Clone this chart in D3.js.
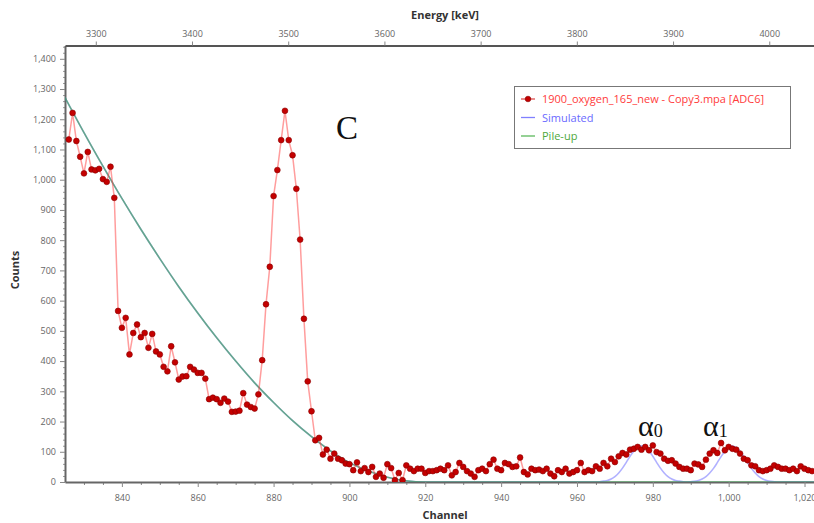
<!DOCTYPE html>
<html>
<head>
<meta charset="utf-8">
<script src="https://cdn.jsdelivr.net/npm/d3@7"></script>
<style>
  html, body { margin: 0; padding: 0; background: #fff; }
  svg { display: block; }
  .tick text { font-family: "Open Sans", "Noto Sans", sans-serif; font-size: 9px; fill: #666; }
  .axis-title { font-family: "Open Sans", "Noto Sans", sans-serif; font-size: 11px; font-weight: bold; fill: #333; }
  .legend text { font-family: "Open Sans", "Noto Sans", sans-serif; font-size: 11px; }
</style>
</head>
<body>
<svg id="chart" width="814" height="523"></svg>
<script>
// Measured spectrum: counts per channel, starting at channel 826
const firstChannel = 826;
const measuredCounts = [
  1133, 1221, 1128, 1076, 1021, 1092, 1034, 1031, 1036, 1002,
  993, 1043, 940, 566, 510, 543, 422, 493, 521, 479,
  493, 444, 490, 432, 422, 381, 366, 449, 396, 339,
  349, 350, 381, 372, 361, 361, 342, 274, 279, 274,
  262, 276, 266, 232, 233, 236, 294, 256, 248, 243,
  290, 403, 588, 712, 946, 1032, 1131, 1228, 1131, 1081,
  970, 802, 540, 333, 234, 138, 146, 91, 107, 77,
  94, 77, 72, 61, 59, 39, 65, 36, 46, 33,
  50, 17, 28, 14, 59, 46, 6, 30, 6, 55,
  44, 36, 44, 44, 30, 36, 36, 39, 44, 39,
  55, 22, 33, 63, 50, 36, 28, 17, 39, 44,
  36, 59, 74, 44, 39, 63, 59, 50, 52, 81,
  33, 25, 44, 39, 41, 36, 44, 28, 19, 39,
  33, 44, 28, 33, 39, 63, 33, 39, 36, 52,
  44, 63, 52, 77, 66, 85, 96, 91, 107, 110,
  116, 107, 116, 105, 121, 99, 94, 77, 70, 72,
  61, 50, 44, 44, 39, 61, 58, 50, 74, 94,
  105, 96, 129, 105, 116, 110, 107, 94, 77, 72,
  55, 52, 39, 36, 39, 44, 55, 50, 44, 44,
  39, 44, 36, 52, 44, 39, 36
];

// Pile-up background curve
const pileupChannels = [825, 830, 835, 840, 845, 850, 855, 860, 865, 870, 875, 880, 885, 890, 895, 900, 905, 910, 915, 920, 1023];
const pileupCounts   = [1272, 1156, 1045, 938, 836, 739, 646, 559, 477, 400, 328, 263, 203, 150, 103, 64, 36, 16, 4, 0, 0];

// Simulated spectrum (pile-up plus the alpha0 / alpha1 peaks)
const simulatedChannels = [
  825, 830, 835, 840, 845, 850, 855, 860, 865, 870, 875, 880, 885, 890, 895, 900, 905, 910, 915, 920,
  930, 940, 950, 960, 965, 966, 967, 968, 969, 970, 971, 972, 973, 974, 975, 976, 977, 978, 979,
  980, 981, 982, 983, 984, 985, 986, 987, 988, 989, 990, 991, 992, 993, 994, 995, 996, 997, 998,
  999, 1000, 1001, 1002, 1003, 1004, 1005, 1006, 1007, 1008, 1009, 1010, 1011, 1012, 1013, 1023
];
const simulatedCounts = [
  1272, 1156, 1045, 938, 836, 739, 646, 559, 477, 400, 328, 263, 203, 150, 103, 64, 36, 16, 4, 0,
  0, 0, 0, 0, 0, 1, 3, 5, 10, 18, 30, 46, 65, 85, 103, 115, 120, 115, 103,
  85, 65, 46, 30, 18, 10, 5, 3, 1, 0, 1, 2, 5, 10, 18, 30, 45, 64, 84,
  102, 114, 119, 114, 102, 84, 64, 45, 30, 18, 10, 5, 2, 1, 0, 0
];

// Axis ticks
const channelTicks = [840, 860, 880, 900, 920, 940, 960, 980, 1000, 1020];
const countTicks = [0, 100, 200, 300, 400, 500, 600, 700, 800, 900, 1000, 1100, 1200, 1300, 1400];
const energyTicks = [3300, 3400, 3500, 3600, 3700, 3800, 3900, 4000];

// Legend entries
const legendLabels = ["1900_oxygen_165_new - Copy3.mpa [ADC6]", "Simulated", "Pile-up"];

const svg = d3.select("#chart");
const plot = { left: 65, right: 814, top: 45.5, bottom: 482 };

const x = d3.scaleLinear().domain([825, 1022.5]).range([plot.left, plot.right]);
const y = d3.scaleLinear().domain([0, 1444]).range([plot.bottom, plot.top]);
const xEnergy = d3.scaleLinear().domain([3268, 4046.5]).range([plot.left, plot.right]);

svg.append("defs").append("clipPath").attr("id", "plotClip")
  .append("rect")
  .attr("x", plot.left).attr("y", plot.top)
  .attr("width", plot.right - plot.left).attr("height", plot.bottom - plot.top);

const fmt = d3.format(",");

// Bottom axis: channel, minor ticks every 5 channels
const minorChannel = d3.range(830, 1023, 5).filter(v => !channelTicks.includes(v));
svg.append("g")
  .attr("transform", `translate(0,${plot.bottom})`)
  .call(d3.axisBottom(x).tickValues(minorChannel).tickSize(3).tickFormat(""))
  .call(g => g.select(".domain").remove())
  .call(g => g.selectAll("line").attr("stroke", "#888"));
svg.append("g")
  .attr("transform", `translate(0,${plot.bottom})`)
  .call(d3.axisBottom(x).tickValues(channelTicks).tickSize(5).tickSizeOuter(0).tickPadding(8).tickFormat(fmt))
  .call(g => g.select(".domain").attr("stroke", "#666").attr("stroke-width", 2))
  .call(g => g.selectAll(".tick line").attr("stroke", "#888"));

// Left axis: counts, minor ticks every 20
const minorCounts = d3.range(20, 1444, 20).filter(v => v % 100 !== 0);
svg.append("g")
  .attr("transform", `translate(${plot.left},0)`)
  .call(d3.axisLeft(y).tickValues(minorCounts).tickSize(2).tickFormat(""))
  .call(g => g.select(".domain").remove())
  .call(g => g.selectAll("line").attr("stroke", "#999"));
svg.append("g")
  .attr("transform", `translate(${plot.left},0)`)
  .call(d3.axisLeft(y).tickValues(countTicks).tickSize(5).tickSizeOuter(0).tickPadding(4).tickFormat(fmt))
  .call(g => g.select(".domain").attr("stroke", "#666").attr("stroke-width", 2))
  .call(g => g.selectAll(".tick line").attr("stroke", "#888"));

// Top axis: energy
svg.append("g")
  .attr("transform", `translate(0,${plot.top})`)
  .call(d3.axisTop(xEnergy).tickValues(energyTicks).tickSize(4).tickSizeOuter(0).tickPadding(5).tickFormat(d3.format("d")))
  .call(g => g.select(".domain").attr("stroke", "#555").attr("stroke-width", 2))
  .call(g => g.selectAll(".tick line").attr("stroke", "#888"));

// Axis titles
svg.append("text").attr("class", "axis-title")
  .attr("x", 445).attr("y", 19).attr("text-anchor", "middle").text("Energy [keV]");
svg.append("text").attr("class", "axis-title")
  .attr("x", 445).attr("y", 519).attr("text-anchor", "middle").text("Channel");
svg.append("text").attr("class", "axis-title")
  .attr("transform", "translate(19,270) rotate(-90)").attr("text-anchor", "middle").text("Counts");

const lines = svg.append("g").attr("clip-path", "url(#plotClip)");

// Simulated curve
const simData = simulatedChannels.map((c, i) => ({ c, v: simulatedCounts[i] }));
lines.append("path").datum(simData)
  .attr("fill", "none")
  .attr("stroke", "rgba(100,100,255,0.5)")
  .attr("stroke-width", 1.6)
  .attr("d", d3.line().x(d => x(d.c)).y(d => y(d.v)).curve(d3.curveMonotoneX));

// Pile-up curve
const pileData = pileupChannels.map((c, i) => ({ c, v: pileupCounts[i] }));
lines.append("path").datum(pileData)
  .attr("fill", "none")
  .attr("stroke", "rgba(60,160,80,0.65)")
  .attr("stroke-width", 1.6)
  .attr("d", d3.line().x(d => x(d.c)).y(d => y(d.v)).curve(d3.curveMonotoneX));

// Measured spectrum
const measData = measuredCounts.map((v, i) => ({ c: firstChannel + i, v }));
lines.append("path").datum(measData)
  .attr("fill", "none")
  .attr("stroke", "rgba(255,60,60,0.5)")
  .attr("stroke-width", 1.5)
  .attr("d", d3.line().x(d => x(d.c)).y(d => y(d.v)));
lines.append("g").selectAll("circle").data(measData).join("circle")
  .attr("cx", d => x(d.c)).attr("cy", d => y(d.v)).attr("r", 2.9)
  .attr("fill", "#c40000").attr("stroke", "#8a0000").attr("stroke-width", 0.6);

// Peak annotations
const serif = '"Liberation Serif", "DejaVu Serif", serif';
svg.append("text").attr("x", 336).attr("y", 139)
  .attr("font-family", serif).attr("font-size", 33).attr("fill", "#111").text("C");
function alphaLabel(xPos, sub) {
  const t = svg.append("text").attr("x", xPos).attr("y", 436)
    .attr("font-family", serif).attr("fill", "#111");
  t.append("tspan").attr("font-size", 30).text("α");
  t.append("tspan").attr("font-size", 18).attr("dy", 1).text(sub);
}
alphaLabel(638, "0");
alphaLabel(703, "1");

// Legend
const legend = svg.append("g").attr("class", "legend");
legend.append("rect")
  .attr("x", 514.5).attr("y", 86.5).attr("width", 276).attr("height", 62)
  .attr("fill", "#fff").attr("stroke", "#777").attr("stroke-width", 1);
const legendColors = ["#ff3b3b", "#6a6aff", "#4ea83c"];
const lineColors = ["#e05050", "#8080ff", "#5cb85c"];
legendLabels.forEach((label, i) => {
  const cy = 99 + i * 18.5;
  legend.append("line")
    .attr("x1", 521).attr("x2", 535).attr("y1", cy).attr("y2", cy)
    .attr("stroke", lineColors[i]).attr("stroke-width", 1.3);
  if (i === 0) {
    legend.append("circle").attr("cx", 528).attr("cy", cy).attr("r", 2.8)
      .attr("fill", "#c40000").attr("stroke", "#8a0000").attr("stroke-width", 0.6);
  }
  legend.append("text").attr("x", 542).attr("y", cy + 4)
    .attr("fill", legendColors[i]).text(label);
});
</script>
</body>
</html>
